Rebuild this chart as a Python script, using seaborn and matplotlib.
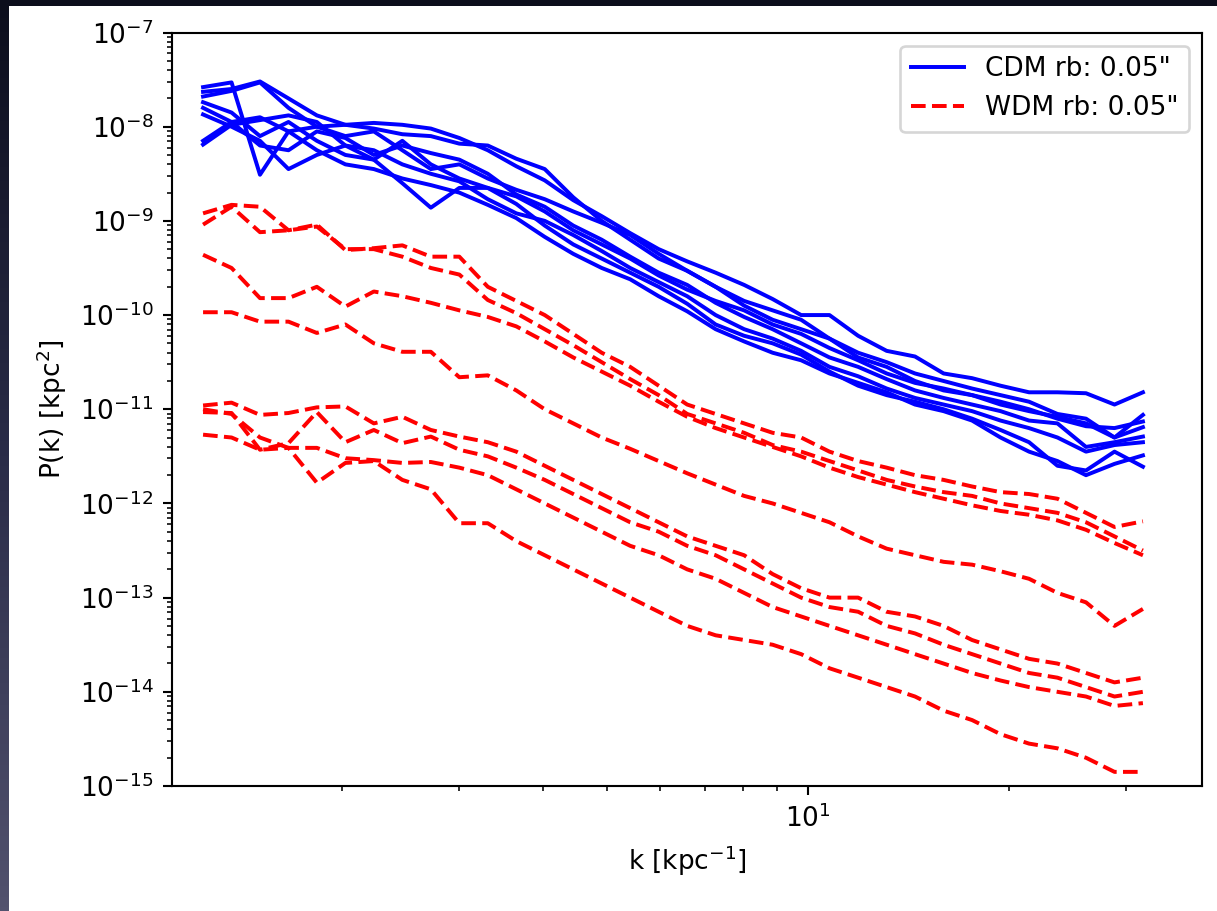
import numpy as np
import pandas as pd
import matplotlib
matplotlib.use("Agg")
import matplotlib.pyplot as plt
import seaborn as sns
from matplotlib.lines import Line2D
from matplotlib.ticker import LogLocator, NullFormatter

# wavenumbers k [kpc^-1]
k = [1.239, 1.367, 1.508, 1.664, 1.835, 2.025, 2.234, 2.465, 2.720, 3.001,
     3.311, 3.653, 4.030, 4.447, 4.906, 5.413, 5.972, 6.590, 7.270, 8.022,
     8.851, 9.766, 10.77, 11.89, 13.12, 14.47, 15.97, 17.62, 19.44, 21.45,
     23.66, 26.11, 28.81, 31.78]

# log10 P(k) [kpc^2]
cdm_1 = [-7.63, -7.60, -7.52, -7.70, -7.88, -7.98, -7.96, -7.98, -8.02, -8.12, -8.25, -8.42, -8.57, -8.78, -8.95, -9.13, -9.30,
         -9.43, -9.55, -9.68, -9.83, -10.00, -10.00, -10.22, -10.38, -10.44, -10.62, -10.67, -10.75, -10.82, -10.82, -10.83, -10.95, -10.82]
cdm_2 = [-7.58, -7.53, -8.51, -8.05, -8.00, -7.98, -8.02, -8.08, -8.10, -8.18, -8.20, -8.34, -8.45, -8.75, -9.00, -9.20, -9.40,
         -9.53, -9.70, -9.85, -9.95, -10.05, -10.25, -10.40, -10.50, -10.62, -10.70, -10.78, -10.85, -10.92, -11.05, -11.10, -11.30, -11.06]
cdm_3 = [-7.68, -7.62, -7.53, -7.80, -8.00, -8.10, -8.05, -8.25, -8.45, -8.40, -8.55, -8.67, -8.77, -8.90, -9.02, -9.15, -9.35,
         -9.53, -9.70, -9.90, -10.05, -10.15, -10.25, -10.45, -10.55, -10.70, -10.80, -10.85, -10.92, -11.00, -11.10, -11.18, -11.20, -11.13]
cdm_4 = [-7.74, -7.85, -8.10, -7.95, -8.15, -8.30, -8.35, -8.60, -8.86, -8.65, -8.65, -8.74, -8.90, -9.10, -9.25, -9.40, -9.58,
         -9.73, -9.85, -9.95, -10.10, -10.20, -10.35, -10.48, -10.62, -10.72, -10.78, -10.85, -10.95, -11.02, -11.08, -11.15, -11.30, -11.19]
cdm_5 = [-7.80, -7.95, -8.20, -8.25, -8.05, -8.12, -8.30, -8.20, -8.28, -8.35, -8.50, -8.72, -8.85, -9.05, -9.20, -9.38, -9.55,
         -9.68, -9.87, -10.02, -10.15, -10.30, -10.45, -10.55, -10.68, -10.80, -10.88, -10.95, -11.02, -11.12, -11.15, -11.40, -11.35, -11.29]
cdm_6 = [-7.87, -8.00, -8.15, -8.45, -8.30, -8.20, -8.25, -8.40, -8.50, -8.58, -8.77, -8.92, -9.00, -9.15, -9.32, -9.50, -9.65,
         -9.80, -10.00, -10.15, -10.25, -10.38, -10.55, -10.65, -10.78, -10.88, -10.95, -11.02, -11.12, -11.20, -11.30, -11.45, -11.38, -11.35]
cdm_7 = [-8.19, -7.98, -7.93, -7.88, -7.95, -8.20, -8.35, -8.15, -8.40, -8.55, -8.65, -8.82, -9.05, -9.25, -9.40, -9.55, -9.70,
         -9.88, -10.10, -10.22, -10.30, -10.42, -10.60, -10.75, -10.85, -10.92, -11.00, -11.10, -11.22, -11.35, -11.60, -11.65, -11.45, -11.61]
cdm_8 = [-8.15, -7.95, -7.90, -8.05, -8.25, -8.40, -8.45, -8.55, -8.62, -8.70, -8.83, -8.97, -9.17, -9.35, -9.50, -9.62, -9.80,
         -9.96, -10.15, -10.28, -10.40, -10.48, -10.62, -10.72, -10.82, -10.95, -11.02, -11.12, -11.30, -11.45, -11.55, -11.70, -11.58, -11.49]

wdm_1 = [-8.92, -8.83, -8.85, -9.10, -9.04, -9.31, -9.29, -9.26, -9.38, -9.38, -9.70, -9.85, -10.00, -10.20, -10.40, -10.55, -10.75,
         -10.95, -11.05, -11.15, -11.25, -11.30, -11.45, -11.55, -11.62, -11.70, -11.75, -11.82, -11.88, -11.90, -11.95, -12.10, -12.25, -12.19]
wdm_2 = [-9.04, -8.85, -9.12, -9.10, -9.06, -9.30, -9.30, -9.38, -9.50, -9.57, -9.84, -9.98, -10.15, -10.32, -10.50, -10.68, -10.85,
         -11.05, -11.15, -11.25, -11.38, -11.45, -11.55, -11.65, -11.75, -11.82, -11.88, -11.92, -12.00, -12.05, -12.10, -12.20, -12.35, -12.50]
wdm_3 = [-9.36, -9.50, -9.82, -9.82, -9.70, -9.91, -9.75, -9.80, -9.87, -9.95, -10.02, -10.12, -10.28, -10.45, -10.60, -10.75, -10.92,
         -11.08, -11.20, -11.30, -11.40, -11.50, -11.62, -11.72, -11.80, -11.88, -11.95, -12.02, -12.08, -12.12, -12.18, -12.28, -12.42, -12.55]
wdm_4 = [-9.97, -9.97, -10.07, -10.07, -10.19, -10.10, -10.30, -10.39, -10.39, -10.66, -10.64, -10.80, -11.00, -11.15, -11.30, -11.42, -11.55,
         -11.68, -11.80, -11.92, -12.00, -12.10, -12.20, -12.35, -12.48, -12.55, -12.62, -12.65, -12.72, -12.80, -12.95, -13.05, -13.30, -13.12]
wdm_5 = [-10.96, -10.93, -11.06, -11.04, -10.98, -10.97, -11.15, -11.08, -11.22, -11.29, -11.35, -11.45, -11.60, -11.75, -11.90, -12.05, -12.20,
         -12.35, -12.45, -12.55, -12.75, -12.90, -13.00, -13.00, -13.15, -13.20, -13.30, -13.45, -13.55, -13.65, -13.70, -13.80, -13.90, -13.85]
wdm_6 = [-11.03, -11.04, -11.43, -11.36, -11.03, -11.35, -11.22, -11.36, -11.29, -11.43, -11.50, -11.62, -11.75, -11.90, -12.05, -12.20, -12.30,
         -12.45, -12.55, -12.70, -12.85, -13.00, -13.10, -13.15, -13.30, -13.38, -13.50, -13.60, -13.70, -13.80, -13.85, -13.95, -14.05, -14.00]
wdm_7 = [-11.27, -11.30, -11.43, -11.41, -11.41, -11.52, -11.54, -11.57, -11.56, -11.62, -11.70, -11.85, -12.00, -12.15, -12.30, -12.45, -12.55,
         -12.70, -12.80, -12.95, -13.10, -13.20, -13.30, -13.40, -13.50, -13.60, -13.70, -13.80, -13.88, -13.95, -14.00, -14.05, -14.15, -14.12]
wdm_8 = [-11.00, -11.05, -11.30, -11.41, -11.78, -11.57, -11.55, -11.75, -11.85, -12.21, -12.21, -12.40, -12.55, -12.70, -12.85, -13.00, -13.15,
         -13.30, -13.40, -13.45, -13.50, -13.60, -13.75, -13.85, -13.95, -14.05, -14.20, -14.30, -14.45, -14.55, -14.60, -14.70, -14.85, -14.85]

cdm_runs = {"c1": cdm_1, "c2": cdm_2, "c3": cdm_3, "c4": cdm_4,
            "c5": cdm_5, "c6": cdm_6, "c7": cdm_7, "c8": cdm_8}
wdm_runs = {"w1": wdm_1, "w2": wdm_2, "w3": wdm_3, "w4": wdm_4,
            "w5": wdm_5, "w6": wdm_6, "w7": wdm_7, "w8": wdm_8}

cdm_label = 'CDM rb: 0.05"'
wdm_label = 'WDM rb: 0.05"'


def to_frame(runs):
    rows = []
    for name, vals in runs.items():
        for kk, v in zip(k, vals):
            rows.append({"k": kk, "P": 10.0 ** v, "run": name})
    return pd.DataFrame(rows)


df_cdm = to_frame(cdm_runs)
df_wdm = to_frame(wdm_runs)

W, H, DPI = 1217, 911, 190
fig = plt.figure(figsize=(W / DPI, H / DPI), dpi=DPI, facecolor="white")

# dark screenshot frame (top and left strips)
frame_top = fig.add_axes([0, 1 - 6 / H, 1, 6 / H])
frame_top.set_axis_off()
frame_top.add_patch(plt.Rectangle((0, 0), 1, 1, color="#0c0e1c", transform=frame_top.transAxes))
frame_left = fig.add_axes([0, 0, 9 / W, 1])
grad = np.linspace(0, 1, 256).reshape(-1, 1)
cmap = matplotlib.colors.LinearSegmentedColormap.from_list("fr", ["#52526e", "#2a2c48", "#0c0e1c"])
frame_left.imshow(grad, aspect="auto", cmap=cmap, origin="lower", extent=[0, 1, 0, 1])
frame_left.set_axis_off()

ax = fig.add_axes([172 / W, 1 - 786 / H, (1202 - 172) / W, (786 - 32.5) / H])

sns.lineplot(data=df_cdm, x="k", y="P", units="run", estimator=None, sort=False,
             color="blue", linewidth=1.5, legend=False, ax=ax)
sns.lineplot(data=df_wdm, x="k", y="P", units="run", estimator=None, sort=False,
             color="red", linewidth=1.5, linestyle="--", legend=False, ax=ax)

ax.set_xscale("log")
ax.set_yscale("log")
ax.set_xlim(1.113, 38.97)
ax.set_ylim(1e-15, 1e-7)
ax.yaxis.set_major_locator(LogLocator(base=10, numticks=20))
ax.yaxis.set_minor_locator(LogLocator(base=10, subs=np.arange(2, 10), numticks=20))
ax.yaxis.set_minor_formatter(NullFormatter())

ax.set_xlabel(r"k [kpc$^{-1}$]")
ax.set_ylabel(r"P(k) [kpc$^{2}$]")

handles = [Line2D([], [], color="blue", linewidth=1.5, linestyle="-"),
           Line2D([], [], color="red", linewidth=1.5, linestyle="--")]
ax.legend(handles, [cdm_label, wdm_label], loc="upper right")

fig.savefig("out.png", dpi=DPI, facecolor="white")
